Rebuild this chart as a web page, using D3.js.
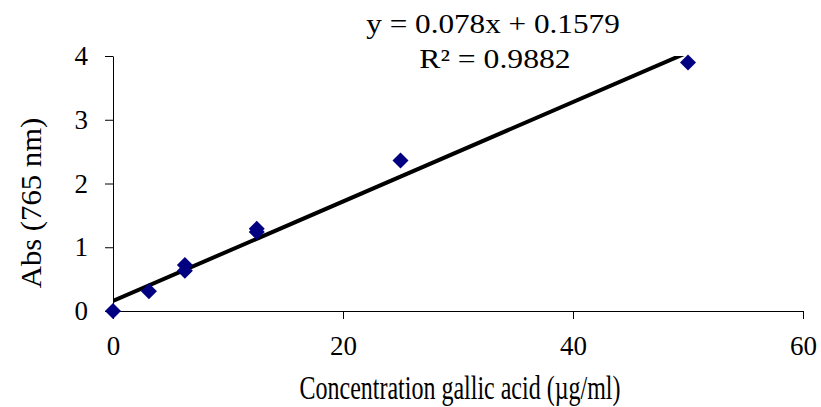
<!DOCTYPE html>
<html>
<head>
<meta charset="utf-8">
<script src="https://cdn.jsdelivr.net/npm/d3@7"></script>
<style>
    body { margin: 0; background: #fff; }
    svg { display: block; font-family: "Liberation Serif", "Times New Roman", serif; }
    .axis path, .axis line { stroke: #000; stroke-width: 1; }
    .axis text { font-family: "Liberation Serif", "Times New Roman", serif; font-size: 27px; fill: #000; }
</style>
</head>
<body>
<div id="chart"></div>
<script>
// data
const concentration = [0, 3.125, 6.25, 6.25, 12.5, 12.5, 25, 50];
const absorbance = [0, 0.31, 0.72, 0.63, 1.29, 1.24, 2.36, 3.9];
const xTicks = [0, 20, 40, 60];
const yTicks = [0, 1, 2, 3, 4];
const slope = 0.078;
const intercept = 0.1579;
const equationText = 'y = 0.078x + 0.1579';
const r2Text = 'R² = 0.9882';

const width = 821, height = 407;
const margin = { top: 56, right: 18, bottom: 96, left: 113 };

const svg = d3.select('#chart').append('svg')
    .attr('width', width)
    .attr('height', height);

const x = d3.scaleLinear()
    .domain([0, 60])
    .range([margin.left, width - margin.right]);
const y = d3.scaleLinear()
    .domain([0, 4])
    .range([height - margin.bottom, margin.top]);

svg.append('clipPath')
    .attr('id', 'plot')
    .append('rect')
    .attr('x', x(0)).attr('y', y(4))
    .attr('width', x(60) - x(0)).attr('height', y(0) - y(4));

// axes
svg.append('g')
    .attr('class', 'axis x')
    .attr('transform', `translate(0,${y(0)})`)
    .call(d3.axisBottom(x).tickValues(xTicks).tickFormat(d3.format('d')).tickSize(8).tickSizeOuter(0))
    .call(g => g.selectAll('text').attr('y', 44).attr('dy', 0));

svg.append('g')
    .attr('class', 'axis y')
    .attr('transform', `translate(${x(0)},0)`)
    .call(d3.axisLeft(y).tickValues(yTicks).tickFormat(d3.format('d')).tickSize(8).tickSizeOuter(0).tickPadding(17));

// trend line, clipped to the plot area
const line = d3.line()
    .x(d => x(d))
    .y(d => y(slope * d + intercept));

svg.append('path')
    .datum([0, d3.max(concentration)])
    .attr('clip-path', 'url(#plot)')
    .attr('d', line)
    .attr('fill', 'none')
    .attr('stroke', '#000')
    .attr('stroke-width', 4);

// markers
svg.append('g')
    .selectAll('path')
    .data(concentration.map((c, i) => [c, absorbance[i]]))
    .join('path')
    .attr('transform', d => `translate(${x(d[0])},${y(d[1])})`)
    .attr('d', 'M0,-8L8,0L0,8L-8,0Z')
    .attr('fill', '#000080');

// equation
svg.append('text')
    .attr('transform', 'translate(493,33) scale(1.3,1.14)')
    .attr('text-anchor', 'middle')
    .attr('font-size', 24)
    .text(equationText);
svg.append('text')
    .attr('transform', 'translate(495,68) scale(1.32,1.14)')
    .attr('text-anchor', 'middle')
    .attr('font-size', 24)
    .text(r2Text);

// axis titles
svg.append('text')
    .attr('transform', 'translate(460,399) scale(1,1.4)')
    .attr('text-anchor', 'middle')
    .attr('font-size', 24)
    .text('Concentration gallic acid (µg/ml)');
svg.append('text')
    .attr('transform', 'translate(41,203) rotate(-90) scale(1.28,1.23)')
    .attr('text-anchor', 'middle')
    .attr('font-size', 24)
    .text('Abs (765 nm)');
</script>
</body>
</html>
